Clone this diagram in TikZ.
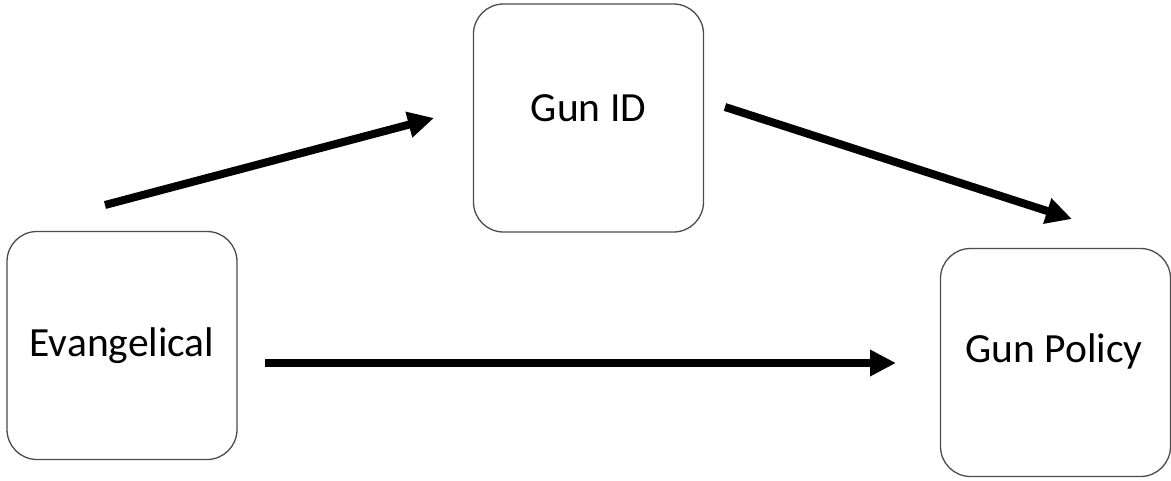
\documentclass[tikz,border=0pt]{standalone}
\usepackage{fontspec}
\setmainfont{Carlito}
\usetikzlibrary{arrows.meta}
\begin{document}
\begin{tikzpicture}[x=1pt,y=-1pt,
  box/.style={draw=black!70,line width=1.3pt,rounded corners=30pt,fill=white,minimum width=230pt,minimum height=228pt,inner sep=0pt},
  lbl/.style={font=\fontsize{41.5}{46}\selectfont,inner sep=0pt,anchor=center},
  arr/.style={line width=8pt,-{Triangle[length=26pt,width=25pt]}}]
\useasboundingbox (0,0) rectangle (1171,480);
\node[box] (ev) at (122,345.5) {};
\node[box] (gid) at (588.5,118) {};
\node[box] (gp) at (1055.5,362.5) {};
\node[lbl] (evt) at (122,346) {Evangelical};
\node[lbl] (gidt) at (588.5,108) {Gun ID};
\node[lbl] (gpt) at (1054,351) {Gun Policy};
\coordinate (a1s) at (105,205);
\coordinate (a1e) at (434,118);
\coordinate (a2s) at (725,107);
\coordinate (a2e) at (1072,219);
\coordinate (a3s) at (265,363);
\coordinate (a3e) at (896,363);
\draw[arr] (a1s) -- (a1e);
\draw[arr] (a2s) -- (a2e);
\draw[arr] (a3s) -- (a3e);
\end{tikzpicture}
\end{document}
